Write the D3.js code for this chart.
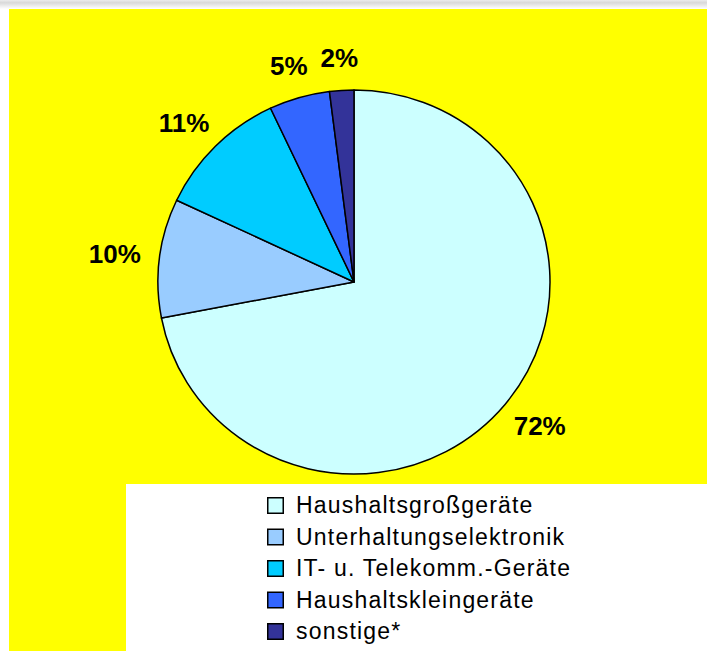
<!DOCTYPE html>
<html>
<head>
<meta charset="utf-8">
<script src="https://cdn.jsdelivr.net/npm/d3@7"></script>
<style>
  html, body { margin: 0; padding: 0; background: #fff; }
  svg { display: block; font-family: Arial, "Liberation Sans", sans-serif; }
</style>
</head>
<body>
<div id="chart"></div>
<script>
// chart data
const categories = [
  "Haushaltsgroßgeräte",
  "Unterhaltungselektronik",
  "IT- u. Telekomm.-Geräte",
  "Haushaltskleingeräte",
  "sonstige*",
];
const shares = [72, 10, 11, 5, 2];

// styles
const sliceColors = ["#ccffff", "#99ccff", "#00ccff", "#3366ff", "#333399"];

function renderPie({ element }) {
  const width = 707;
  const height = 651;
  const cx = 354;
  const cy = 282;
  const radius = 196;
  const labelGap = 19;
  const labelHalfHeight = 10;

  const svg = d3
    .select(element)
    .append("svg")
    .attr("width", width)
    .attr("height", height);

  const defs = svg.append("defs");
  const grad = defs
    .append("linearGradient")
    .attr("id", "shadow")
    .attr("x1", 0)
    .attr("y1", 0)
    .attr("x2", 0)
    .attr("y2", 1);
  grad.append("stop").attr("offset", "0%").attr("stop-color", "#ececec");
  grad.append("stop").attr("offset", "30%").attr("stop-color", "#d9d9d9");
  grad.append("stop").attr("offset", "100%").attr("stop-color", "#ffffff");

  svg
    .append("rect")
    .attr("width", width)
    .attr("height", 9)
    .attr("fill", "url(#shadow)");

  // yellow plot area
  svg
    .append("rect")
    .attr("x", 9)
    .attr("y", 9)
    .attr("width", width - 9)
    .attr("height", height - 9)
    .attr("fill", "#ffff00");

  // white legend panel
  svg
    .append("rect")
    .attr("x", 126)
    .attr("y", 484)
    .attr("width", width - 126)
    .attr("height", height - 484)
    .attr("fill", "#ffffff");

  const pie = d3
    .pie()
    .sort(null)
    .value((d) => d);

  const arcs = pie(shares);

  const arc = d3.arc().innerRadius(0).outerRadius(radius);

  const pieG = svg
    .append("g")
    .attr("transform", `translate(${cx},${cy}) scale(1,0.98)`);

  pieG
    .selectAll("path")
    .data(arcs)
    .join("path")
    .attr("d", arc)
    .attr("fill", (d, i) => sliceColors[i])
    .attr("stroke", "#000")
    .attr("stroke-width", 1.5)
    .attr("stroke-linejoin", "round");

  // outside-end labels: the box touches a point just past the rim
  const labels = svg
    .append("g")
    .selectAll("text")
    .data(arcs)
    .join("text")
    .attr("dy", "0.36em")
    .attr("text-anchor", "middle")
    .attr("font-size", 26)
    .attr("font-weight", "bold")
    .attr("fill", "#000")
    .text((d) => `${d.data}%`);

  labels.each(function (d) {
    const a = (d.startAngle + d.endAngle) / 2;
    const halfW = this.getComputedTextLength() / 2;
    const r0 = radius + labelGap;
    d3.select(this)
      .attr("x", cx + (r0 + halfW) * Math.sin(a))
      .attr("y", cy - (r0 + labelHalfHeight) * Math.cos(a));
  });

  // legend
  const rowY = d3
    .scalePoint()
    .domain(categories)
    .range([505.5, 631.5]);

  const legendRow = svg
    .append("g")
    .selectAll("g")
    .data(categories)
    .join("g")
    .attr("transform", (d) => `translate(267,${rowY(d)})`);

  legendRow
    .append("rect")
    .attr("x", 0.75)
    .attr("y", -7.75)
    .attr("width", 15.5)
    .attr("height", 15.5)
    .attr("fill", (d, i) => sliceColors[i])
    .attr("stroke", "#000")
    .attr("stroke-width", 1.5);

  legendRow
    .append("text")
    .attr("x", 29)
    .attr("y", 7.5)
    .attr("font-size", 23)
    .attr("letter-spacing", "1.2px")
    .attr("fill", "#000")
    .text((d) => d);
}

renderPie({ element: "#chart" });
</script>
</body>
</html>
